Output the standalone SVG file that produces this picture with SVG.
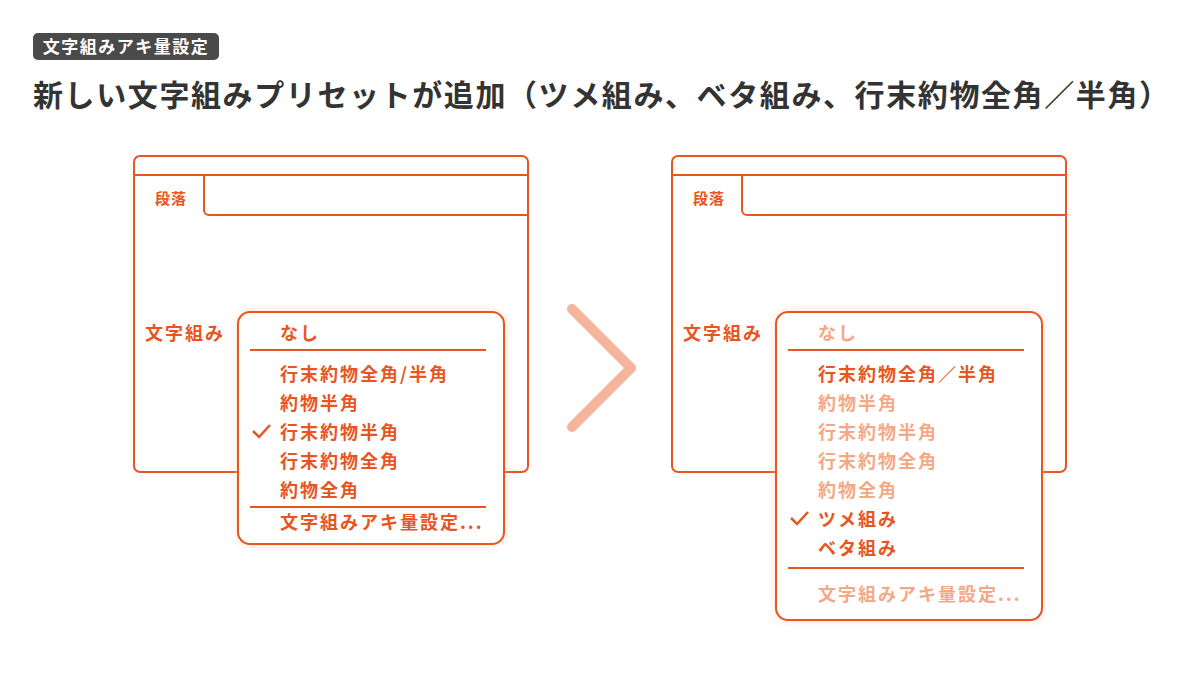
<svg xmlns="http://www.w3.org/2000/svg" width="1200" height="675" viewBox="0 0 1200 675">
<style>
text{font-family:"Noto Sans CJK JP","Noto Sans",sans-serif;font-weight:700}
.o{fill:#E8551E}.f{fill:#F5A886}
.ln{stroke:#E8551E;stroke-width:2;fill:none}
.it{font-size:18px;letter-spacing:2px}
</style>
<defs>
<filter id="g" x="-20%" y="-20%" width="140%" height="140%"><feGaussianBlur stdDeviation="5"/></filter>
</defs>
<rect width="1200" height="675" fill="#fff"/>
<g id="tag"><rect x="33" y="33" width="186" height="27" rx="5" fill="#4a4a4a"/>
<text x="126" y="53" font-size="17" fill="#fff" text-anchor="middle" font-weight="500" letter-spacing="1.5">文字組みアキ量設定</text></g>
<text id="title" x="33" y="106" font-size="30" fill="#333" letter-spacing="1.6" font-weight="600">新しい文字組みプリセットが追加（ツメ組み、ベタ組み、行末約物全角／半角）</text>

<g id="left">
<rect class="ln" x="134" y="156" width="394" height="316" rx="6"/>
<line class="ln" x1="134" y1="175" x2="528" y2="175"/>
<path class="ln" d="M204 175V210a5 5 0 0 0 5 5H528"/>
<text class="o" x="155" y="204" font-size="15" letter-spacing="1">段落</text>
<text class="o it" x="145" y="340" letter-spacing="1">文字組み</text>
<rect x="238" y="312" width="266" height="232" rx="12" fill="#F8B898" filter="url(#g)" opacity="0.6"/>
<rect x="238" y="312" width="266" height="232" rx="12" fill="#fff" stroke="#E8551E" stroke-width="2"/>
<g class="o it">
<text x="280" y="340">なし</text>
<text x="280" y="381">行末約物全角/半角</text>
<text x="280" y="410">約物半角</text>
<text x="280" y="439">行末約物半角</text>
<text x="280" y="468">行末約物全角</text>
<text x="280" y="497">約物全角</text>
<text x="280" y="529">文字組みアキ量設定...</text>
</g>
<line class="ln" x1="250" y1="350" x2="486" y2="350"/>
<line class="ln" x1="250" y1="507" x2="486" y2="507"/>
<path d="M253 431l6 6 11-12" stroke="#E8551E" stroke-width="2.5" fill="none"/>
</g>

<path id="arrow" d="M572 309L631 368L572 427" stroke="#F6B49A" stroke-width="10" fill="none" stroke-linecap="round" stroke-linejoin="round"/>

<g id="right">
<rect class="ln" x="672" y="156" width="394" height="316" rx="6"/>
<line class="ln" x1="672" y1="175" x2="1066" y2="175"/>
<path class="ln" d="M742 175V210a5 5 0 0 0 5 5H1066"/>
<text class="o" x="693" y="204" font-size="15" letter-spacing="1">段落</text>
<text class="o it" x="683" y="340" letter-spacing="1">文字組み</text>
<rect x="776" y="312" width="266" height="308" rx="12" fill="#F8B898" filter="url(#g)" opacity="0.6"/>
<rect x="776" y="312" width="266" height="308" rx="12" fill="#fff" stroke="#E8551E" stroke-width="2"/>
<g class="it">
<text class="f" x="818" y="340">なし</text>
<text class="o" x="818" y="381">行末約物全角／半角</text>
<text class="f" x="818" y="410">約物半角</text>
<text class="f" x="818" y="439">行末約物半角</text>
<text class="f" x="818" y="468">行末約物全角</text>
<text class="f" x="818" y="497">約物全角</text>
<text class="o" x="818" y="526">ツメ組み</text>
<text class="o" x="818" y="555">ベタ組み</text>
<text class="f" x="818" y="601">文字組みアキ量設定...</text>
</g>
<line class="ln" x1="788" y1="350" x2="1024" y2="350"/>
<line class="ln" x1="788" y1="568" x2="1024" y2="568"/>
<path d="M791 518l6 6 11-12" stroke="#E8551E" stroke-width="2.5" fill="none"/>
</g>
</svg>
